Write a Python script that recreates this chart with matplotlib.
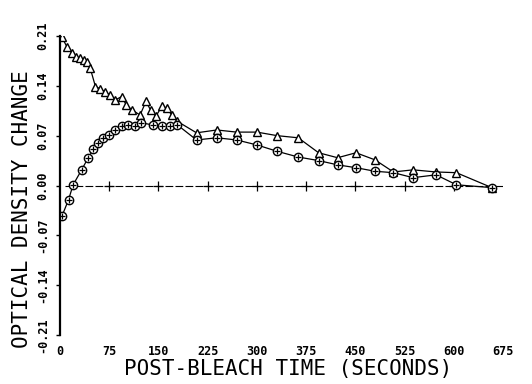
import matplotlib
matplotlib.use("Agg")
import matplotlib.pyplot as plt

# tempo (s) e valores
tempo_tri = [3, 11, 18, 24, 30, 36, 41, 46, 54, 61, 68, 76, 84, 94, 101, 110, 122, 131,
             138, 146, 155, 163, 170, 179, 208, 239, 269, 300, 331, 363, 394, 423,
             451, 480, 508, 538, 573, 604, 658]
dens_tri = [0.208, 0.194, 0.186, 0.181, 0.179, 0.176, 0.173, 0.165, 0.139, 0.136, 0.132,
            0.127, 0.120, 0.125, 0.113, 0.106, 0.099, 0.118, 0.106, 0.097, 0.111, 0.109,
            0.099, 0.090, 0.074, 0.078, 0.075, 0.075, 0.070, 0.067, 0.046, 0.039,
            0.046, 0.036, 0.019, 0.022, 0.019, 0.018, -0.003]

tempo_circ = [3, 13, 20, 33, 43, 51, 58, 66, 74, 84, 94, 104, 114, 124, 142, 155, 168,
              179, 208, 239, 269, 300, 331, 363, 394, 423, 451, 480, 508, 538, 573,
              604, 658]
dens_circ = [-0.043, -0.020, 0.001, 0.022, 0.039, 0.051, 0.060, 0.067, 0.071, 0.078,
             0.083, 0.085, 0.083, 0.088, 0.085, 0.083, 0.084, 0.085, 0.064, 0.067,
             0.064, 0.057, 0.048, 0.040, 0.035, 0.029, 0.025, 0.020, 0.018, 0.011,
             0.015, 0.001, -0.003]

marcas_zero = [75, 150, 225, 300, 375, 450, 525, 600]
xticks = [0, 75, 150, 225, 300, 375, 450, 525, 600, 675]
yticks = [-0.21, -0.14, -0.07, 0.00, 0.07, 0.14, 0.21]

fonte = "DejaVu Sans Mono"

fig = plt.figure(figsize=(5.32, 3.84), dpi=100)
ax = fig.add_axes([60/532, 49/384, 443/532, 299/384])

# linha do zero
ax.plot([8, 680], [0, 0], color="black", lw=0.8, dashes=(7, 2))
ax.plot(marcas_zero, [0]*len(marcas_zero), "+", color="black", ms=7, mew=0.9)

ax.plot(tempo_tri, dens_tri, "-", color="black", lw=0.9)
ax.plot(tempo_tri, dens_tri, "^", mfc="white", mec="black", ms=6, mew=1.0)

ax.plot(tempo_circ, dens_circ, "-", color="black", lw=0.9)
ax.plot(tempo_circ, dens_circ, "o", mfc="white", mec="black", ms=6, mew=1.0)
ax.plot(tempo_circ, dens_circ, "+", color="black", ms=5, mew=0.9)

ax.set_xlim(0, 675)
ax.set_ylim(-0.21, 0.21)

for lado in ["top", "right", "bottom"]:
    ax.spines[lado].set_visible(False)
ax.spines["left"].set_linewidth(1.6)

ax.set_xticks(xticks)
ax.set_xticklabels([str(x) for x in xticks], family=fonte, fontsize=8.5, fontweight="bold")
ax.tick_params(axis="x", length=0, pad=7)

ax.set_yticks(yticks)
ax.set_yticklabels(["%.2f" % y for y in yticks], family=fonte, fontsize=8.5,
                   fontweight="bold", rotation=90, va="center")
ax.tick_params(axis="y", length=3, width=1, pad=5)

ax.set_xlabel("POST-BLEACH TIME (SECONDS)", family=fonte, fontsize=15)
ax.set_ylabel("OPTICAL DENSITY CHANGE", family=fonte, fontsize=15)
ax.xaxis.set_label_coords(0.515, -0.08)
ax.yaxis.set_label_coords(-0.063, 0.42)

fig.savefig("out.png", dpi=100)
